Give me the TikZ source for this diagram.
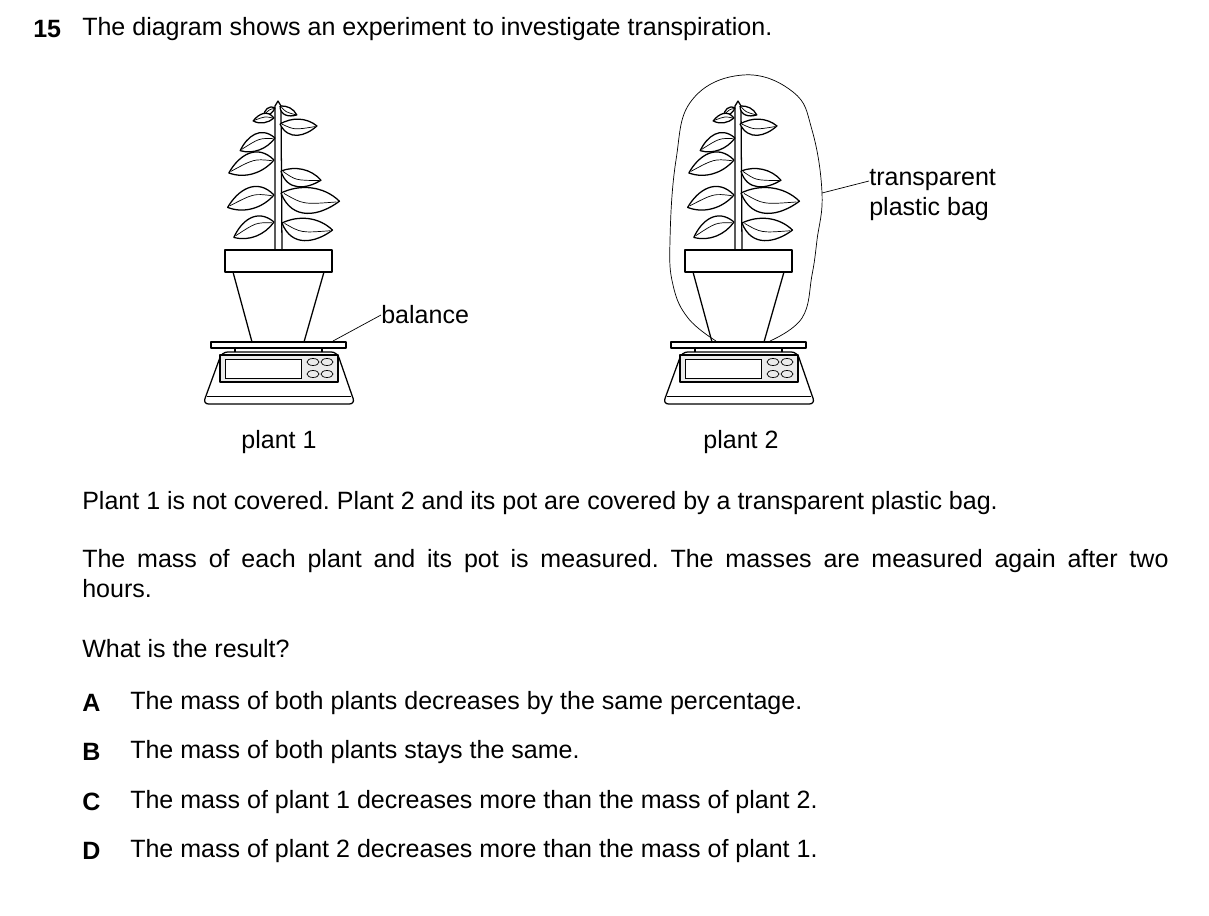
\documentclass[tikz,border=0pt]{standalone}
\usepackage{fontspec}
\setmainfont{Liberation Sans}
\frenchspacing
\tikzset{
    txt/.style={anchor=west,inner sep=0pt,font=\fontsize{17.8}{21.3}\selectfont},
    ln/.style={line width=0.9pt,line join=round},
    thin/.style={line width=0.5pt},
}
% leaf: attach point, angle, length
\newcommand{\leaf}[4]{%
    \begin{scope}[shift={(#1,#2)},rotate=#3]
        \filldraw[ln,fill=white](0,0)..controls(0.25*#4,0.45*#4)and(0.7*#4,0.3*#4)..(#4,0)
            ..controls(0.7*#4,-0.22*#4)and(0.3*#4,-0.2*#4)..(0,0);
        \draw[thin](0.05*#4,0)..controls(0.4*#4,0.14*#4)..(0.95*#4,0.02*#4);
    \end{scope}}
\newcommand{\potplant}[1]{%
    \begin{scope}[shift={(#1,0)}]
        % stem
        \filldraw[ln,fill=white](275,250)--(275,106)--(278,101)--(281,106)--(282,250);
        \foreach \ax/\ay/\ang/\len in {275/108/214/14,280/106/-28/19,274/118/188/21,
            280/124/-3/37,275/138/200/37,274/160/196/47,281/171/-13/41,
            274/195/195/48,281/193/-8/59,274/222/201/43,282/223/-8/51}
            {\leaf{\ax}{\ay}{\ang}{\len}}
        % pot
        \draw[ln,fill=white](233,272)--(252,342)--(304,342)--(324,272);
        \draw[ln,fill=white](225,250)rectangle(332,272);
        % balance
        \draw[ln,fill=white](211,342)rectangle(346,348);
        \draw[ln](235,348)--(235,352)(322,348)--(322,352);
        \draw[ln,fill=white,rounded corners=4](222,352)--(337,352)--(355,404)--(203,404)--cycle;
        \draw[thin](207,396)--(351,396);
        \draw[ln,fill=black!8](220,355)rectangle(338,382);
        \draw[thin,fill=white](225,359)rectangle(301,378);
        \foreach \bx/\by in {313/362,327/362,313/374,327/374}
            {\draw[thin](\bx,\by)ellipse(6 and 3.5);}
    \end{scope}}

\begin{document}
\begin{tikzpicture}[x=0.025cm,y=-0.025cm]
    \useasboundingbox(0,0)rectangle(1209,915);
    \node[txt,font=\fontsize{17.8}{21.3}\selectfont\bfseries](num)at(33,29){15};
    \node[txt](intro)at(82,29){The diagram shows an experiment to investigate transpiration.};
    \potplant{460}
    \potplant{0}
    % bag
    \draw[thin]plot[smooth,tension=0.7]coordinates{(716,341)(688,318)(673,285)(670,240)(676,160)
        (692,100)(743,75)(793,92)(812,130)(822,193)(817,240)(812,275)(802,318)(770,341)};
    \coordinate(balpt)at(333,341);
    \coordinate(bagpt)at(822,193);
    \node[txt](bal)at(381,315){balance};
    \node[txt,align=left](bag)at(869,195){transparent\\plastic bag};
    \draw[thin](balpt)--(bal.west);
    \draw[thin](bagpt)--(bag.north west|-0,181);
    \node[txt,anchor=center](p1)at(279,442){plant 1};
    \node[txt,anchor=center](p2)at(741,442){plant 2};
    \node[txt](s1)at(82,503){Plant 1 is not covered. Plant 2 and its pot are covered by a transparent plastic bag.};
    \node[txt,anchor=north west,text width=27.15cm,align=justify](s2)at(82,549)
        {The mass of each plant and its pot is measured. The masses are measured again after two\linebreak hours.};
    \node[txt](q)at(82,649){What is the result?};
    \foreach \l/\t/\yy in {A/The mass of both plants decreases by the same percentage./703,
        B/The mass of both plants stays the same./752,
        C/The mass of plant 1 decreases more than the mass of plant 2./802,
        D/The mass of plant 2 decreases more than the mass of plant 1./851}
        {\node[txt,font=\fontsize{17.8}{21.3}\selectfont\bfseries](l\l)at(82,\yy){\l};
         \node[txt](o\l)at(130,\yy){\t};}
\end{tikzpicture}
\end{document}
